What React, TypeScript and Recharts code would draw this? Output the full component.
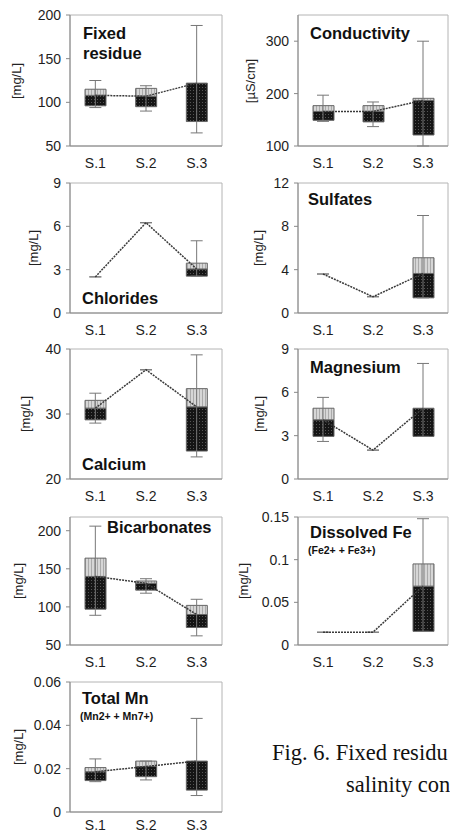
import { Bar, ComposedChart, ErrorBar, Line, ReferenceArea, XAxis, YAxis } from "recharts"

const sites = ["S.1", "S.2", "S.3"]

// per site: [whisker min, box bottom, median, box top, whisker max]; single readings only have the median
const fixedResidue = [[94, 96, 108, 115, 125], [90, 95, 107, 116, 119], [65, 78, 122, 122, 188]]
const conductivity = [[147, 149, 166, 177, 197], [137, 146, 166, 177, 184], [100, 121, 187, 191, 300]]
const chlorides = [[null, null, 2.5, null, null], [null, null, 6.25, null, null], [2.55, 2.55, 3.05, 3.45, 5.0]]
const sulfates = [[null, null, 3.6, null, null], [null, null, 1.5, null, null], [1.4, 1.4, 3.65, 5.1, 9.0]]
const calcium = [[28.6, 29.1, 30.9, 32.1, 33.2], [null, null, 36.8, null, null], [23.4, 24.3, 31.1, 33.9, 39.1]]
const magnesium = [[2.6, 2.95, 4.1, 4.9, 5.65], [null, null, 2.0, null, null], [2.95, 2.95, 4.9, 4.9, 8.0]]
const bicarbonates = [[89, 97, 140, 164, 206], [118, 122, 131, 134, 137], [62, 73, 90, 102, 110]]
const dissolvedFe = [[null, null, 0.015, null, null], [null, null, 0.015, null, null], [0.016, 0.016, 0.069, 0.095, 0.148]]
const totalMn = [[0.014, 0.0145, 0.0186, 0.0205, 0.0245], [0.0148, 0.0163, 0.021, 0.0235, 0.0235], [0.0076, 0.0101, 0.0235, 0.0235, 0.0432]]

const fixedTicks = [50, 100, 150, 200]
const condTicks = [100, 200, 300]
const nineTicks = [0, 3, 6, 9]
const sulfTicks = [0, 4, 8, 12]
const caTicks = [20, 30, 40]
const bicTicks = [50, 100, 150, 200]
const feTicks = [0, 0.05, 0.1, 0.15]
const mnTicks = [0, 0.02, 0.04, 0.06]

// caption as far as it shows on the page
const captionLines = ["Fig. 6. Fixed residu", "salinity con"]

const panels = [
  { id: "fr", vals: fixedResidue, domain: [50, 200], ticks: fixedTicks, col: 0, top: 15, bottom: 146, unit: "[mg/L]", ux: 16, title: ["Fixed", "residue"], tx: 83, ty: 33 },
  { id: "co", vals: conductivity, domain: [100, 350], ticks: condTicks, col: 1, top: 15, bottom: 146, unit: "[µS/cm]", ux: 250, title: ["Conductivity"], tx: 310, ty: 33 },
  { id: "cl", vals: chlorides, domain: [0, 9], ticks: nineTicks, col: 0, top: 183, bottom: 313, unit: "[mg/L]", ux: 33, title: ["Chlorides"], tx: 82, ty: 298 },
  { id: "su", vals: sulfates, domain: [0, 12], ticks: sulfTicks, col: 1, top: 183, bottom: 313, unit: "[mg/L]", ux: 258, title: ["Sulfates"], tx: 308, ty: 199 },
  { id: "ca", vals: calcium, domain: [20, 40], ticks: caTicks, col: 0, top: 349, bottom: 479, unit: "[mg/L]", ux: 25, title: ["Calcium"], tx: 82, ty: 464 },
  { id: "mg", vals: magnesium, domain: [0, 9], ticks: nineTicks, col: 1, top: 349, bottom: 479, unit: "[mg/L]", ux: 259, title: ["Magnesium"], tx: 310, ty: 367 },
  { id: "bi", vals: bicarbonates, domain: [50, 218], ticks: bicTicks, col: 0, top: 517, bottom: 645, unit: "[mg/L]", ux: 18, title: ["Bicarbonates"], tx: 107, ty: 527 },
  { id: "fe", vals: dissolvedFe, domain: [0, 0.15], ticks: feTicks, col: 1, top: 517, bottom: 645, unit: "[mg/L]", ux: 243, title: ["Dissolved Fe"], sub: "(Fe2+ + Fe3+)", tx: 310, ty: 532 },
  { id: "mn", vals: totalMn, domain: [0, 0.06], ticks: mnTicks, col: 0, top: 682, bottom: 812, unit: "[mg/L]", ux: 18, title: ["Total Mn"], sub: "(Mn2+ + Mn7+)", tx: 82, ty: 698, lastRow: true },
]

const tickStyle = { fontSize: 14, fill: "#1e1e1e" }

function toRows(vals: any[]) {
  return sites.map((site, i) => {
    const [lo, q1, med, q3, hi] = vals[i]
    const box = q1 != null
    return {
      site,
      med,
      base: box ? q1 : null,
      dark: box ? med - q1 : null,
      light: box ? q3 - med : null,
      err: box ? [med - lo, hi - med] : [0, 0],
    }
  })
}

function Panel({ p }: { p: any }) {
  const h = p.bottom - p.top
  const offX = p.col ? 225 : 0
  return (
    <div style={{ position: "absolute", left: offX, top: p.top - 10 }}>
      <ComposedChart
        width={225}
        height={h + (p.lastRow ? 30 : 42)}
        data={toRows(p.vals)}
        margin={{ top: 10, right: p.col ? 2 : 3, left: 0, bottom: 0 }}
      >
        <defs>
          <pattern id={`dk-${p.id}`} width={3} height={3} patternUnits="userSpaceOnUse">
            <rect width={3} height={3} fill="#151515" />
            <rect x={1} y={1} width={1} height={1} fill="#555" />
          </pattern>
          <pattern id={`lt-${p.id}`} width={3} height={3} patternUnits="userSpaceOnUse">
            <rect width={3} height={3} fill="#d6d6d6" />
            <rect x={1} y={0} width={1} height={3} fill="#aaa" />
          </pattern>
        </defs>
        <XAxis
          dataKey="site"
          tick={tickStyle}
          tickLine={false}
          axisLine={{ stroke: "#888" }}
          tickMargin={p.lastRow ? 2 : 6}
          height={p.lastRow ? 20 : 32}
          interval={0}
        />
        <YAxis
          type="number"
          domain={p.domain}
          ticks={p.ticks}
          allowDataOverflow
          interval={0}
          width={p.col ? 73 : 70}
          tick={tickStyle}
          tickSize={4}
          tickMargin={5}
          tickLine={{ stroke: "#888" }}
          axisLine={{ stroke: "#888" }}
        />
        <ReferenceArea y1={p.domain[0]} y2={p.domain[1]} fill="none" stroke="#b4b4b4" />
        <Line dataKey="med" stroke="none" dot={false} isAnimationActive={false}>
          <ErrorBar dataKey="err" width={6} stroke="#777" strokeWidth={1} direction="y" />
        </Line>
        <Line
          dataKey="med"
          stroke="#3a3a3a"
          strokeWidth={1.5}
          strokeDasharray="2 1"
          dot={false}
          isAnimationActive={false}
        />
        <Bar dataKey="base" stackId="b" fill="none" barSize={21} isAnimationActive={false} />
        <Bar dataKey="dark" stackId="b" fill={`url(#dk-${p.id})`} stroke="#666" barSize={21} isAnimationActive={false} />
        <Bar dataKey="light" stackId="b" fill={`url(#lt-${p.id})`} stroke="#666" barSize={21} isAnimationActive={false} />
      </ComposedChart>
      {/* unit label, rotated */}
      <div
        style={{
          position: "absolute",
          left: p.ux - offX,
          top: 10 + h / 2,
          transform: "translate(-50%, -50%) rotate(-90deg)",
          fontSize: 13,
          color: "#222",
          whiteSpace: "nowrap",
        }}
      >
        {p.unit}
      </div>
      <div
        style={{
          position: "absolute",
          left: p.tx - offX,
          top: p.ty - p.top,
          fontSize: 16.5,
          fontWeight: "bold",
          lineHeight: "20px",
          color: "#111",
          whiteSpace: "nowrap",
        }}
      >
        {p.title.map((t: string) => (
          <div key={t}>{t}</div>
        ))}
        {p.sub && <div style={{ fontSize: 10.5, lineHeight: "16px", marginLeft: -2 }}>{p.sub}</div>}
      </div>
    </div>
  )
}

const captionStyle = {
  position: "absolute" as const,
  fontFamily: "'Liberation Serif', 'Times New Roman', serif",
  fontSize: 22.5,
  lineHeight: "26px",
  color: "#111",
  whiteSpace: "nowrap" as const,
}

export default function App() {
  return (
    <div
      style={{
        position: "fixed",
        left: 0,
        top: 0,
        width: 450,
        height: 834,
        overflow: "hidden",
        background: "#fff",
        fontFamily: "'Liberation Sans', Arial, sans-serif",
      }}
    >
      {panels.map((p) => (
        <Panel key={p.id} p={p} />
      ))}
      <div style={{ ...captionStyle, left: 272, top: 740 }}>{captionLines[0]}</div>
      <div style={{ ...captionStyle, left: 346, top: 772 }}>{captionLines[1]}</div>
    </div>
  )
}
